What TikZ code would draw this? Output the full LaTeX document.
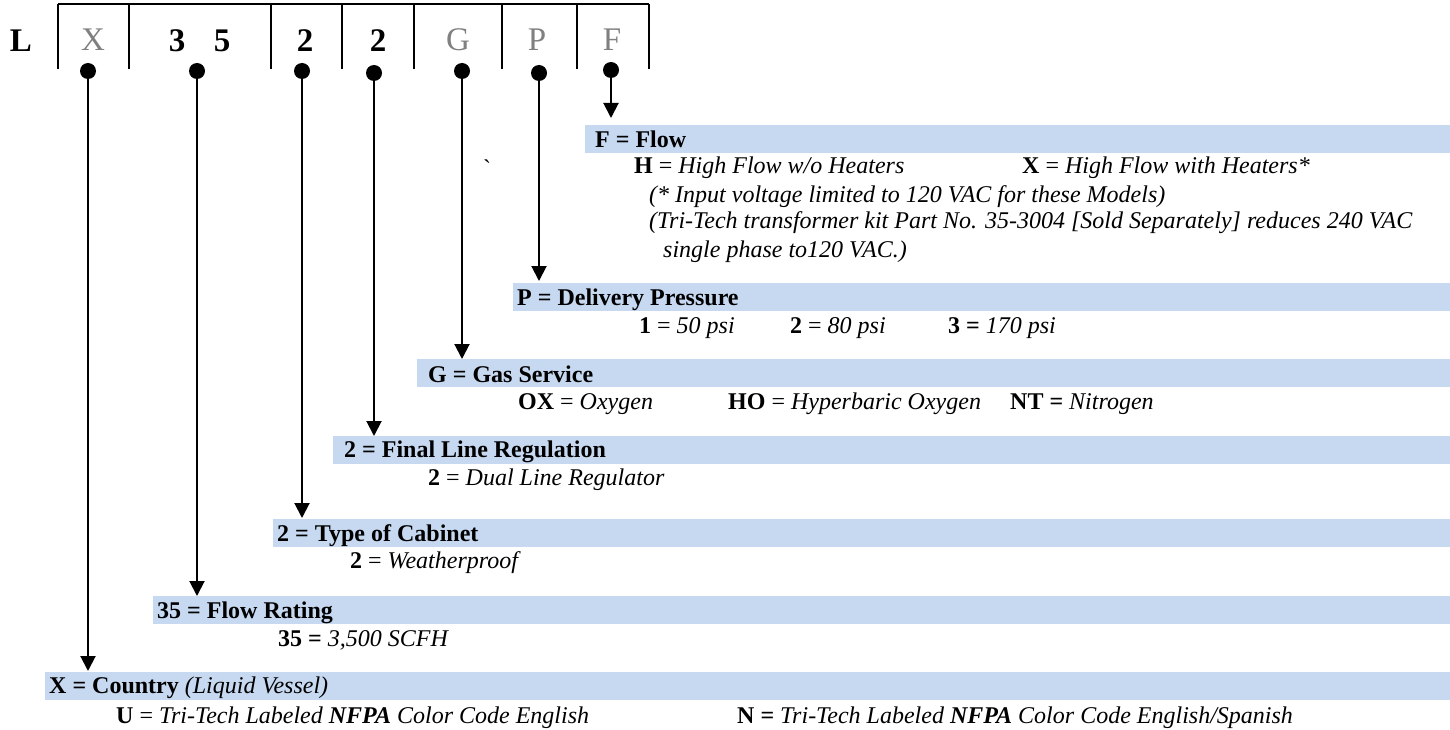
\documentclass[tikz,border=0pt]{standalone}
\usepackage{fontspec}
\setmainfont{Liberation Serif}
\usetikzlibrary{arrows.meta}
\definecolor{barblue}{HTML}{C6D9F1}
\definecolor{codegray}{HTML}{808080}
\begin{document}
\begin{tikzpicture}[x=1pt,y=-1pt,
  bar/.style={fill=barblue, draw=none, inner sep=0pt, anchor=north west, minimum height=28pt},
  txt/.style={anchor=base west, inner sep=0pt, font=\fontsize{24}{28}\selectfont},
  hd/.style={anchor=base west, inner sep=0pt, font=\fontsize{24}{28}\selectfont\bfseries},
  code/.style={anchor=base, inner sep=0pt, font=\fontsize{33}{36}\selectfont},
  boldcode/.style={code, font=\fontsize{33}{36}\selectfont\bfseries},
  dot/.style={circle, fill=black, inner sep=0pt, minimum size=16pt},
  conn/.style={line width=2pt, -{Triangle[width=15pt,length=15pt]}},
  frameline/.style={line width=2pt}]
\useasboundingbox (0,0) rectangle (1450,730);

% code row
\draw[frameline] (58,4) -- (649,4);
\foreach \xx in {58,129,271,342,414,502,577,649}
  \draw[frameline] (\xx,4) -- (\xx,69);
\node[boldcode] (cL) at (21,52) {L};
\node[code, text=codegray] (cX) at (93,51) {X};
\node[boldcode] (c3) at (177,52) {3};
\node[boldcode] (c5) at (222,52) {5};
\node[boldcode] (c2a) at (305,52) {2};
\node[boldcode] (c2b) at (378,52) {2};
\node[code, text=codegray] (cG) at (458,51) {G};
\node[code, text=codegray] (cP) at (537,51) {P};
\node[code, text=codegray] (cF) at (612,51) {F};

% dots
\node[dot] (dX) at (88,71) {};
\node[dot] (d35) at (197,71) {};
\node[dot] (d2a) at (302,71) {};
\node[dot] (d2b) at (374,73) {};
\node[dot] (dG) at (462,71) {};
\node[dot] (dP) at (539,73) {};
\node[dot] (dF) at (611,70) {};

% bars
\node[bar, minimum width=865pt] (bF) at (585,125) {};
\node[bar, minimum width=937pt] (bP) at (513,283) {};
\node[bar, minimum width=1033pt] (bG) at (417,359) {};
\node[bar, minimum width=1117pt] (bR) at (333,436) {};
\node[bar, minimum width=1177pt] (bC) at (273,519) {};
\node[bar, minimum width=1297pt] (b35) at (153,596) {};
\node[bar, minimum width=1405pt] (bX) at (45,672) {};

% arrow ends
\coordinate (tF) at (611,118);
\coordinate (tP) at (539,281);
\coordinate (tG) at (462,359);
\coordinate (tR) at (374,436);
\coordinate (tC) at (302,518);
\coordinate (t35) at (197,596);
\coordinate (tX) at (88,671);

\draw[conn] (dF) -- (tF);
\draw[conn] (dP) -- (tP);
\draw[conn] (dG) -- (tG);
\draw[conn] (d2b) -- (tR);
\draw[conn] (d2a) -- (tC);
\draw[conn] (d35) -- (t35);
\draw[conn] (dX) -- (tX);

% F
\node[hd] (hF) at (595,148) {F = Flow};
\node[txt] (fH) at (634,174) {\textbf{H} = \textit{High Flow w/o Heaters}};
\node[txt] (fX) at (1022,174) {\textbf{X} = \textit{High Flow with Heaters*}};
\node[txt] (f1) at (649,202) {\textit{(* Input voltage limited to 120 VAC for these Models)}};
\node[txt] (f2) at (649,229) {\textit{(Tri-Tech transformer kit Part No. 35-3004 [Sold Separately] reduces 240 VAC}};
\node[txt] (f3) at (663,257) {\textit{single phase to120 VAC.)}};
\node[txt] (tick) at (483,177) {\textasciigrave};

% P
\node[hd] (hP) at (517,305) {P = Delivery Pressure};
\node[txt] (p1) at (639,333) {\textbf{1} = \textit{50 psi}};
\node[txt] (p2) at (790,333) {\textbf{2} = \textit{80 psi}};
\node[txt] (p3) at (948,333) {\textbf{3 =} \textit{170 psi}};

% G
\node[hd] (hG) at (428,382) {G = Gas Service};
\node[txt] (g1) at (518,409) {\textbf{OX} = \textit{Oxygen}};
\node[txt] (g2) at (728,409) {\textbf{HO} = \textit{Hyperbaric Oxygen}};
\node[txt] (g3) at (1010,409) {\textbf{NT =} \textit{Nitrogen}};

% Final line regulation
\node[hd] (hR) at (344,457) {2 = Final Line Regulation};
\node[txt] (r1) at (428,485) {\textbf{2} = \textit{Dual Line Regulator}};

% Cabinet
\node[hd] (hC) at (277,541) {2 = Type of Cabinet};
\node[txt] (c1) at (350,568) {\textbf{2} = \textit{Weatherproof}};

% Flow rating
\node[hd] (h35) at (157,618) {35 = Flow Rating};
\node[txt] (s1) at (278,646) {\textbf{35 =} \textit{3,500 SCFH}};

% Country
\node[hd] (hX) at (49,693) {X = Country \textnormal{\itshape (Liquid Vessel)}};
\node[txt] (x1) at (116,723) {\textbf{U} = \textit{Tri-Tech Labeled \textbf{NFPA} Color Code English}};
\node[txt] (x2) at (737,723) {\textbf{N =} \textit{Tri-Tech Labeled \textbf{NFPA} Color Code English/Spanish}};
\end{tikzpicture}
\end{document}
